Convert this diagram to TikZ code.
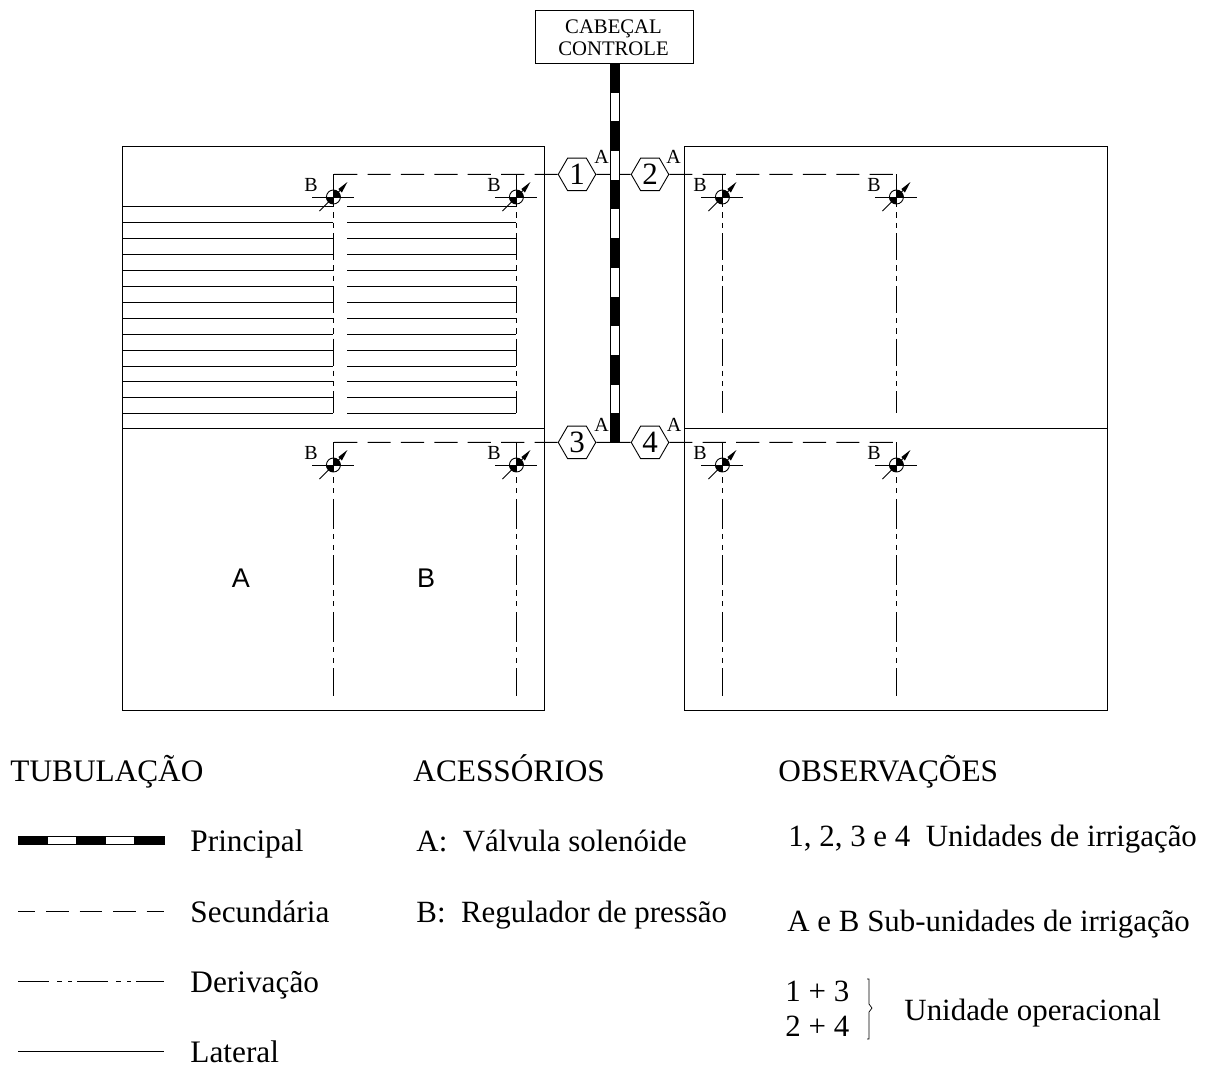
\documentclass[tikz,border=0pt]{standalone}
\usepackage{fontspec}
\setmainfont{Liberation Serif}
\newfontfamily\plansans{Liberation Sans}
\usetikzlibrary{shapes.geometric}
\newcommand{\fsz}[1]{\fontsize{#1}{#1}\selectfont}
\tikzset{
  x=1pt,y=-1pt,
  every path/.style={line width=0.9pt},
  plot border/.style={draw,line width=0.9pt},
  secline/.style={line width=0.9pt,dash pattern=on 23.2pt off 10.2pt},
  derupper/.style={line width=0.9pt,dash pattern=on 27pt off 5pt on 5.5pt off 5pt on 5.2pt off 5pt,dash phase=46.7pt},
  derlower/.style={line width=0.9pt,dash pattern=on 30pt off 5pt on 5.5pt off 5.5pt on 5pt off 5.5pt},
  derlegend/.style={line width=0.9pt,dash pattern=on 31pt off 8pt on 5pt off 6pt on 4pt off 5pt},
  seclegend/.style={line width=0.9pt,dash pattern=on 22.5pt off 11pt,dash phase=5.5pt},
  hexa/.style={draw,regular polygon,regular polygon sides=6,minimum size=37.5pt,inner sep=0pt,font=\fsz{31}},
  smallab/.style={font=\fsz{20},inner sep=0pt},
  bigtxt/.style={anchor=base west,font=\fsz{31.3},inner sep=0pt},
  bodytxt/.style={anchor=base west,font=\fsz{30.9},inner sep=0pt},
  sublabel/.style={font=\plansans\fsz{27},inner sep=0pt},
  whitepipe/.style={draw,fill=white,line width=0.9pt}
}
% regulator: #1 name, #2 x, #3 y
\newcommand{\regulator}[3]{%
  \coordinate (#1) at (#2,#3);
  \draw (#2-21,#3) -- (#2+21,#3);
  \draw (#2-14,#3+14) -- (#2+8,#3-8);
  \fill (#2+5,#3-8) -- (#2+14,#3-15) -- (#2+8.5,#3-4.5) -- cycle;
  \fill (#2,#3) -- (#2,#3+7) -- (#2-2.7,#3+6.5) -- (#2-5,#3+5) -- (#2-6.5,#3+2.7) -- (#2-7,#3) -- cycle;
  \fill (#2,#3) -- (#2,#3-7) -- (#2+2.7,#3-6.5) -- (#2+5,#3-5) -- (#2+6.5,#3-2.7) -- (#2+7,#3) -- cycle;
  \draw (#1) circle[radius=7];
}
\begin{document}
\begin{tikzpicture}
\useasboundingbox (0,0) rectangle (1209,1066);
% plots
\draw[plot border] (122,146) rectangle (544,710);
\draw[plot border] (122,428) -- (544,428);
\draw[plot border] (684,146) rectangle (1107,710);
\draw[plot border] (684,428) -- (1107,428);

% laterals
\foreach \yy in {206,222,238,254,270,286,302,318,334,350,366,381,397,413}{
  \draw (122,\yy) -- (333,\yy);
  \draw (347,\yy) -- (516,\yy);
}

% head
\node[draw,minimum width=158pt,minimum height=53pt,inner sep=0pt,anchor=north west] (head) at (535,10) {};
\node[font=\fsz{20.7},inner sep=0pt,anchor=base] (headone) at (613.5,33) {CABEÇAL};
\node[font=\fsz{20.7},inner sep=0pt,anchor=base] (headtwo) at (613.5,55) {CONTROLE};

% main pipe
\draw[whitepipe] (610,63) rectangle (619,442);
\foreach \yy in {63,121.4,179.8,238.2,296.6,355,413}{
  \fill (610,\yy) rectangle (619,{min(\yy+29.5,442)});
}

% hexagons
\node[hexa] (h1) at (577,174.4) {1};
\node[hexa] (h2) at (650,174.4) {2};
\node[hexa] (h3) at (577,442.4) {3};
\node[hexa] (h4) at (650,442.4) {4};
\coordinate (pl1) at (610,174.4);
\coordinate (pr1) at (619,174.4);
\coordinate (pl3) at (610,442.4);
\coordinate (pr3) at (619,442.4);
\draw (h1.east) -- (pl1);
\draw (pr1) -- (h2.west);
\draw (h3.east) -- (pl3);
\draw (pr3) -- (h4.west);

% A labels
\node[smallab] (a1) at (601.5,156.5) {A};
\node[smallab] (a2) at (673.5,156.5) {A};
\node[smallab] (a3) at (601.5,424.5) {A};
\node[smallab] (a4) at (674,424.5) {A};

% secondaries
\coordinate (s1) at (333.4,174.4);
\coordinate (s1b) at (516.4,174.4);
\coordinate (s2) at (722.4,174.4);
\coordinate (s2b) at (896.4,174.4);
\coordinate (s3) at (333.4,442.4);
\coordinate (s3b) at (516.4,442.4);
\coordinate (s4) at (722.4,442.4);
\coordinate (s4b) at (896.4,442.4);
\draw[secline] (h1.west) -- (s1);
\draw[secline] (h2.east) -- (s2b);
\draw[secline] (h3.west) -- (s3);
\draw[secline] (h4.east) -- (s4b);

% derivations
\coordinate (e1) at (333.4,413);
\coordinate (e1b) at (516.4,413);
\coordinate (e2) at (722.4,413);
\coordinate (e2b) at (896.4,413);
\coordinate (e3) at (333.4,696);
\coordinate (e3b) at (516.4,696);
\coordinate (e4) at (722.4,696);
\coordinate (e4b) at (896.4,696);
\foreach \n in {1,1b,2,2b}{
  \draw[derupper] (s\n) -- (e\n);
  \draw (s\n) -- ++(0,20);
}
\foreach \n in {3,3b,4,4b}{
  \draw[derlower] (s\n) -- (e\n);
}

% regulators
\regulator{r1}{333.4}{197}
\regulator{r1b}{516.4}{197}
\regulator{r2}{722.4}{197}
\regulator{r2b}{896.4}{197}
\regulator{r3}{333.4}{465}
\regulator{r3b}{516.4}{465}
\regulator{r4}{722.4}{465}
\regulator{r4b}{896.4}{465}
\node[smallab] (b1) at (311,185) {B};
\node[smallab] (b1b) at (494,185) {B};
\node[smallab] (b2) at (700,185) {B};
\node[smallab] (b2b) at (874,185) {B};
\node[smallab] (b3) at (311,453) {B};
\node[smallab] (b3b) at (494,453) {B};
\node[smallab] (b4) at (700,453) {B};
\node[smallab] (b4b) at (874,453) {B};

% sub-unit labels
\node[sublabel] (suba) at (241,578) {A};
\node[sublabel] (subb) at (426,578) {B};

% legend headings
\node[bigtxt] (t1) at (10,781) {TUBULAÇÃO};
\node[bigtxt] (t2) at (413,781) {ACESSÓRIOS};
\node[bigtxt] (t3) at (778,781) {OBSERVAÇÕES};

% legend samples
\draw[whitepipe] (18,836) rectangle (164,844);
\foreach \xx in {18,76,134}{
  \fill (\xx,836) rectangle (\xx+30,844);
}
\node[bigtxt] (l1) at (190,851.5) {Principal};
\coordinate (ls) at (18,911.4);
\coordinate (le) at (164,911.4);
\draw[seclegend] (ls) -- (le);
\node[bigtxt] (l2) at (190,922.5) {Secundária};
\coordinate (ld) at (18,981.4);
\coordinate (lf) at (164,981.4);
\draw[derlegend] (ld) -- (lf);
\node[bigtxt] (l3) at (190,992.5) {Derivação};
\coordinate (lg) at (18,1051.4);
\coordinate (lh) at (164,1051.4);
\draw (lg) -- (lh);
\node[bigtxt] (l4) at (190,1062.5) {Lateral};

% accessories
\node[bodytxt] (ac1) at (416,851.5) {A:\ \ Válvula solenóide};
\node[bodytxt] (ac2) at (416,922.5) {B:\ \ Regulador de pressão};

% notes
\node[bodytxt] (o1) at (788,846.5) {1, 2, 3 e 4\ \ Unidades de irrigação};
\node[bodytxt] (o2) at (787,931.5) {A e B Sub-unidades de irrigação};
\node[bodytxt] (o3) at (785,1001.5) {1 + 3};
\node[bodytxt] (o4) at (785,1036) {2 + 4};
\node[bodytxt] (o5) at (904,1020) {Unidade operacional};
\coordinate (bra) at (867,979);
\coordinate (brb) at (867,1039);
\draw[line width=0.7pt] (bra) -- ++(2,0) -- (869,1004) -- (872,1008) -- (869,1012) -- (869,1039) -- (brb);
\end{tikzpicture}
\end{document}
